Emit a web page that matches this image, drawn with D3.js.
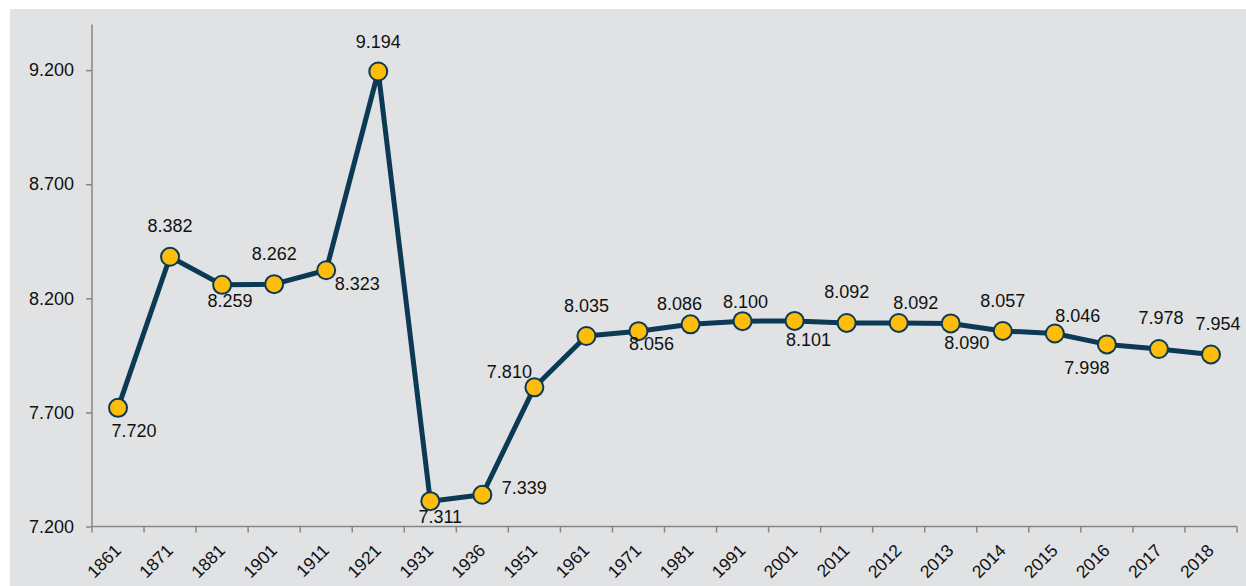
<!DOCTYPE html>
<html>
<head>
<meta charset="utf-8">
<script src="https://cdn.jsdelivr.net/npm/d3@7"></script>
<style>
  html, body { margin: 0; padding: 0; background: #ffffff; }
  svg { display: block; font-family: "Liberation Sans", Arial, sans-serif; }
</style>
</head>
<body>
<svg id="chart" width="1246" height="586"></svg>
<script>
const categories = ["1861","1871","1881","1901","1911","1921","1931","1936","1951","1961","1971","1981","1991","2001","2011","2012","2013","2014","2015","2016","2017","2018"];
const values = [7.720, 8.382, 8.259, 8.262, 8.323, 9.194, 7.311, 7.339, 7.810, 8.035, 8.056, 8.086, 8.100, 8.101, 8.092, 8.092, 8.090, 8.057, 8.046, 7.998, 7.978, 7.954];
const yTicks = [7.2, 7.7, 8.2, 8.7, 9.2];

// layout: label centre offsets relative to each point (pixels)
const labelOffsets = [[16,23],[0,-31],[8,16],[0,-30],[31,14],[0,-30],[10,16],[42,-7],[-25,-15],[0,-30],[13,13],[-11,-20],[3,-19],[14,19],[0,-31],[17,-20],[16,20],[0,-30],[23,-17],[-20,24],[2,-31],[7,-30]];

(function () {
const svg = d3.select("#chart");
const W = 1246, H = 586;
const mLeft = 92, mRight = 1237, mTop = 24.5, mBottom = 526.5;

svg.append("rect").attr("x", 10).attr("y", 9).attr("width", W - 10).attr("height", H - 9).attr("fill", "#e1e2e4");

const x = d3.scaleBand().domain(categories).range([mLeft, mRight]).padding(0);
const y = d3.scaleLinear().domain([7.2, 9.4]).range([mBottom, mTop]);

const axisColor = "#868686";

// Y axis
const yAxis = svg.append("g").attr("transform", `translate(${mLeft},0)`)
  .call(d3.axisLeft(y).tickValues(yTicks).tickFormat(d3.format(".3f")).tickSizeOuter(0).tickSize(6).tickPadding(12));
yAxis.select(".domain").remove();
yAxis.append("line").attr("x1", 0).attr("x2", 0).attr("y1", mTop).attr("y2", mBottom).attr("stroke", axisColor).attr("stroke-width", 1.5);
yAxis.selectAll(".tick line").attr("stroke", axisColor).attr("stroke-width", 1.5);
yAxis.selectAll(".tick text").attr("fill", "#111").style("font-size", "18px").style("font-family", "'Liberation Sans', Arial, sans-serif");

// X axis line + ticks at band boundaries
const xg = svg.append("g");
xg.append("line").attr("x1", mLeft).attr("x2", mRight).attr("y1", mBottom).attr("y2", mBottom).attr("stroke", axisColor).attr("stroke-width", 1.5);
const edges = categories.map(c => x(c)).concat([mRight]);
xg.selectAll("line.xt").data(edges).enter().append("line").attr("class", "xt")
  .attr("x1", d => d).attr("x2", d => d).attr("y1", mBottom).attr("y2", mBottom + 6)
  .attr("stroke", axisColor).attr("stroke-width", 1.5);
xg.selectAll("text.xl").data(categories).enter().append("text").attr("class", "xl")
  .attr("transform", d => `translate(${x(d) + x.bandwidth() / 2 + 4},${mBottom + 25}) rotate(-45)`)
  .attr("text-anchor", "end")
  .attr("fill", "#111")
  .style("font-size", "17.5px")
  .text(d => d);

// Line
const pts = categories.map((c, i) => ({ c, v: values[i], i }));
const line = d3.line().x(d => x(d.c) + x.bandwidth() / 2).y(d => y(d.v));
svg.append("path").datum(pts).attr("d", line).attr("fill", "none")
  .attr("stroke", "#0c3a54").attr("stroke-width", 5).attr("stroke-linejoin", "round");

// Markers
svg.selectAll("circle.pt").data(pts).enter().append("circle").attr("class", "pt")
  .attr("cx", d => x(d.c) + x.bandwidth() / 2).attr("cy", d => y(d.v)).attr("r", 9)
  .attr("fill", "#fdbd0a").attr("stroke", "#0c3a54").attr("stroke-width", 2);

// Labels
svg.selectAll("text.lbl").data(pts).enter().append("text").attr("class", "lbl")
  .attr("x", d => x(d.c) + x.bandwidth() / 2 + labelOffsets[d.i][0])
  .attr("y", d => y(d.v) + labelOffsets[d.i][1])
  .attr("text-anchor", "middle").attr("dominant-baseline", "central")
  .attr("fill", "#111").style("font-size", "18px")
  .text(d => d3.format(".3f")(d.v));
})();
</script>
</body>
</html>
